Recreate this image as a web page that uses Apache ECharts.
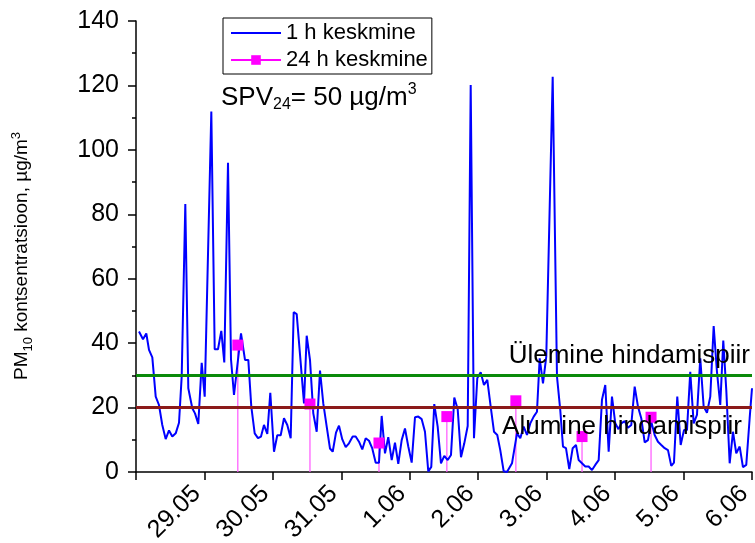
<!DOCTYPE html>
<html><head><meta charset="utf-8">
<script src="https://cdn.jsdelivr.net/npm/echarts@6/dist/echarts.min.js"></script>
<style>html,body{margin:0;padding:0;background:#fff}#c{width:755px;height:543px}</style>
</head><body><div id="c"></div>
<script>
// x tick labels (one per day boundary, first one unlabeled)
const dayLabels = ['', '29.05', '30.05', '31.05', '1.06', '2.06', '3.06', '4.06', '5.06', '6.06'];
// 1 h mean: time in hours from axis start, concentration µg/m3
const hourTimes = [1.05,2.45,3.61,4.56,5.72,6.91,8.06,9.22,10.41,11.57,12.73,13.92,15.08,16.02,17.29,18.34,19.74,20.69,21.84,23.04,24.09,26.41,27.59,28.75,29.91,30.96,32.26,33.31,34.36,36.82,38.22,39.38,40.43,41.62,42.78,43.83,44.88,46.04,47.09,48.39,49.54,50.74,51.89,53.05,54.24,55.29,56.35,58.91,59.85,61.01,62.17,63.36,64.52,65.67,66.87,68.02,68.97,70.13,71.18,72.34,73.53,74.68,75.98,77.03,78.19,79.35,80.54,81.70,82.85,84.05,85.20,86.15,87.31,88.46,89.66,90.81,91.97,93.16,94.32,95.48,96.67,97.83,98.98,100.18,101.33,102.49,103.54,104.59,105.78,106.94,108.10,109.29,110.45,111.61,112.80,113.96,115.11,116.31,117.36,118.51,119.67,120.86,122.02,123.18,124.37,125.53,126.68,127.73,128.93,130.08,131.84,133.59,134.75,135.94,137.10,138.25,139.45,140.60,141.55,142.71,143.86,146.11,147.62,148.77,149.72,150.77,151.93,153.12,154.28,155.22,156.38,157.54,158.73,159.89,161.04,162.24,163.39,164.55,165.74,166.90,168.06,169.18,170.16,171.35,172.51,173.67,174.86,176.02,177.17,178.37,179.52,180.68,181.87,183.03,184.19,185.38,186.54,187.69,188.64,189.80,190.99,192.15,193.20,194.35,195.55,196.70,197.86,199.05,200.21,201.37,202.56,203.72,204.87,205.93,206.98,208.17,209.33,210.48,211.68,212.83,213.99,215.18,216.0];
const hourValues = [43.6,41.2,43.0,37.9,35.6,23.4,20.8,14.6,10.2,12.9,11.0,12.0,15.3,29.6,83.2,26.0,19.8,18.2,14.9,33.9,23.4,111.9,38.1,38.1,43.8,34.0,96.0,35.0,23.9,43.0,34.8,34.8,20.3,12.0,10.5,11.0,14.6,11.8,24.6,6.3,11.4,11.4,16.7,14.6,10.5,49.6,49.0,21.3,42.3,34.8,18.2,12.5,31.5,21.3,14.1,7.3,6.3,12.2,14.4,10.1,7.7,8.9,11.0,11.0,9.4,7.0,10.5,9.7,7.3,2.9,2.9,17.4,5.8,10.8,3.7,9.1,2.5,9.9,13.5,7.9,2.9,17.0,17.2,16.4,12.5,0.2,1.6,21.1,14.1,2.7,5.0,3.7,5.3,23.1,19.5,4.6,8.9,14.3,120.1,10.5,29.1,31.0,27.0,28.6,20.3,12.5,11.5,6.8,0.2,0.0,2.7,12.0,10.5,14.1,11.5,15.1,17.2,18.7,35.3,27.5,35.8,122.7,29.6,19.2,7.9,7.4,0.9,7.4,8.4,3.7,2.7,1.7,1.7,0.6,2.2,3.7,22.4,27.0,6.3,23.4,15.1,13.3,15.1,15.8,13.7,14.6,26.5,20.3,16.7,9.2,9.9,15.6,11.5,9.4,8.4,7.4,6.8,1.9,2.9,23.4,8.4,13.0,13.0,31.1,15.1,17.7,35.3,20.3,18.4,23.4,45.3,31.1,20.8,40.8,25.5,2.7,12.5,5.8,7.9,1.5,2.2,16.7,26.0];
// 24 h mean
const dayTimes = [35.7, 61.0, 85.2, 109.0, 133.2, 156.4, 180.6];
const dayValues = [39.4, 21.1, 9.0, 17.2, 22.1, 11.0, 17.0];
// assessment thresholds
const upperLimit = 30, lowerLimit = 20;
const upperName = 'Ülemine hindamispiir', lowerName = 'Alumine hindamispiir';

const FONT = 'Liberation Sans, Arial, sans-serif';
const hourData = hourTimes.map((t, i) => [t, hourValues[i]]);
const dayData = dayTimes.map((t, i) => [t, dayValues[i]]);

const chart = echarts.init(document.getElementById('c'), null, {renderer: 'canvas'});
chart.setOption({
  animation: false,
  backgroundColor: '#fff',
  grid: {left: 136, right: 3, top: 21, bottom: 71, containLabel: false, outerBoundsMode: 'none'},
  legend: {
    left: 223, top: 18, orient: 'vertical',
    borderColor: '#000', borderWidth: 1, padding: [4, 4, 3, 7], itemGap: 5,
    itemWidth: 50, itemHeight: 12,
    textStyle: {fontFamily: FONT, fontSize: 22, color: '#000'},
    data: [
      {name: '1 h keskmine', itemStyle: {opacity: 0}},
      {name: '24 h keskmine', lineStyle: {width: 2, color: '#ff00ff', opacity: 1}}
    ]
  },
  graphic: [{
    type: 'text', left: 221, top: 82,
    style: {
      text: 'SPV{sub|24}= 50 µg/m{sup|3}',
      font: '26px ' + FONT, fill: '#000',
      rich: {
        sub: {fontSize: 16, fontFamily: FONT, verticalAlign: 'bottom', padding: [15, 0, 0, 0]},
        sup: {fontSize: 16, fontFamily: FONT, verticalAlign: 'top', padding: [0, 0, 15, 0]}
      }
    }
  }, {
    type: 'text', x: 22, y: 256, rotation: Math.PI / 2,
    style: {
      text: 'PM{sub|10} kontsentratsioon, µg/m{sup|3}',
      font: '19px ' + FONT, fill: '#000', align: 'center', verticalAlign: 'middle',
      rich: {
        sub: {fontSize: 13, fontFamily: FONT, verticalAlign: 'bottom', padding: [12, 0, 0, 0]},
        sup: {fontSize: 13, fontFamily: FONT, verticalAlign: 'top', padding: [0, 0, 12, 0]}
      }
    }
  }],
  xAxis: {
    type: 'value', min: 0, max: 216, interval: 24,
    axisLine: {show: true, lineStyle: {color: '#000', width: 1.5}},
    axisTick: {show: true, length: 8, lineStyle: {color: '#000', width: 1.5}},
    splitLine: {show: false},
    axisLabel: {
      rotate: 45, margin: 10, fontSize: 25, fontFamily: FONT, color: '#000',
      hideOverlap: false,
      formatter: v => {
        const s = dayLabels[Math.round(v / 24)] || '';
        return s ? '{t|' + s + '}{g|}' : '';
      },
      rich: {
        t: {fontSize: 25, fontFamily: FONT, color: '#000'},
        g: {width: 11}
      }
    }
  },
  yAxis: {
    type: 'value', min: 0, max: 140, interval: 20,
    axisLine: {show: true, lineStyle: {color: '#000', width: 1.5}},
    axisTick: {show: true, length: 8, lineStyle: {color: '#000', width: 1.5}},
    minorTick: {show: true, splitNumber: 2, length: 4, lineStyle: {color: '#000', width: 1.5}},
    splitLine: {show: false},
    axisLabel: {fontSize: 25, fontFamily: FONT, color: '#000', margin: 17}
  },
  series: [
    {
      name: '1 h keskmine', type: 'line', data: hourData, symbol: 'none',
      lineStyle: {color: '#0000ff', width: 2}, itemStyle: {color: '#0000ff'}, z: 3,
      markLine: {
        silent: true, symbol: 'none',
        data: [
          {yAxis: upperLimit, name: upperName, lineStyle: {color: '#0a8a0a', width: 3, type: 'solid'},
            label: {show: true, position: 'insideEndTop', formatter: upperName, fontSize: 26, fontFamily: FONT, color: '#000', distance: [2, 7]}},
          {yAxis: lowerLimit, name: lowerName, lineStyle: {color: '#8b1a1a', width: 3, type: 'solid'},
            label: {show: true, position: 'insideEndBottom', formatter: lowerName, fontSize: 26, fontFamily: FONT, color: '#000', distance: [10, 6]}}
        ]
      }
    },
    {
      name: '24 h drop', type: 'bar', data: dayData, barWidth: 1.2,
      itemStyle: {color: '#ff55ff'}, z: 2, silent: true
    },
    {
      name: '24 h keskmine', type: 'line', data: dayData,
      symbol: 'rect', symbolSize: 11, showSymbol: true,
      lineStyle: {width: 0, opacity: 0}, itemStyle: {color: '#ff00ff'}, z: 4
    }
  ]
});
</script></body></html>
